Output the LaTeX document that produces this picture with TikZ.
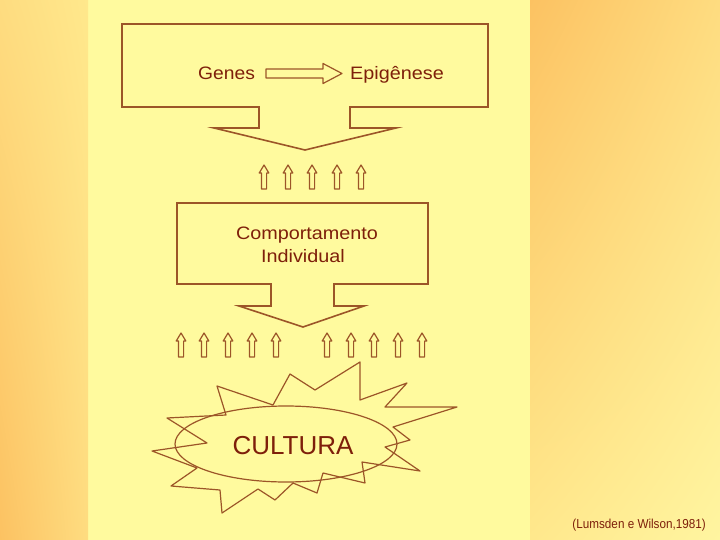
\documentclass[tikz,border=0pt]{standalone}
\usepackage{fontspec}
\setmainfont{Liberation Sans}
\usetikzlibrary{shadings,shapes.geometric}
\definecolor{panel}{HTML}{FFFA9E}
\definecolor{linebrown}{HTML}{9C5528}
\definecolor{textred}{HTML}{7E1F0A}
\definecolor{orA}{HTML}{FCC262}
\definecolor{orB}{HTML}{FEDC80}
\definecolor{orC}{HTML}{FFE88C}
\definecolor{orD}{HTML}{FFF5A0}
\begin{document}
\begin{tikzpicture}[x=1pt,y=-1pt,
  boxline/.style={draw=linebrown,line width=1.6pt,line join=miter},
  thinline/.style={draw=linebrown,line width=1.2pt,line join=round},
  label/.style={text=textred,font=\fontsize{18}{20}\selectfont,inner sep=0pt},
  uparrow/.pic={\draw[thinline] (0,0) -- (4.8,8) -- (2.6,8) -- (2.6,24) -- (-2.6,24) -- (-2.6,8) -- (-4.8,8) -- cycle;}]
\useasboundingbox (0,0) rectangle (720,540);
% background
\fill[panel] (0,0) rectangle (720,540);
\shade[upper left=orB, upper right=orC, lower left=orA, lower right=orB] (0,0) rectangle (88,540);
\shade[upper left=orA, upper right=orB, lower left=orC, lower right=orD] (530,0) rectangle (720,540);
% top box
\draw[boxline] (122,24) -- (488,24) -- (488,107) -- (350,107) -- (350,128) -- (396,128)
  -- (305,150) -- (214,128) -- (259,128) -- (259,107) -- (122,107) -- cycle;
\node[label,anchor=base west] (genes) at (198,80) {\scalebox{1.07}[1]{Genes}};
\node[label,anchor=base west] (epi) at (350,80) {\scalebox{1.1}[1]{Epigênese}};
\draw[thinline] (266,69) -- (323,69) -- (323,63.5) -- (342,73.5) -- (323,83.5) -- (323,78) -- (266,78) -- cycle;
% first row of arrows
\foreach \cx in {264,288,312,337,361} \pic at (\cx,165) {uparrow};
% middle box
\draw[boxline] (177,203) -- (428,203) -- (428,284) -- (334,284) -- (334,306) -- (364,306)
  -- (303,327) -- (239,306) -- (271,306) -- (271,284) -- (177,284) -- cycle;
\node[label,anchor=base] (comp) at (307,240) {\scalebox{1.1}[1]{Comportamento}};
\node[label,anchor=base] (ind) at (303,262) {\scalebox{1.1}[1]{Individual}};
% second row of arrows
\foreach \cx in {181,204,228,252,276,327,351,374,398,422} \pic at (\cx,333) {uparrow};
% star
\draw[thinline] (217,386) -- (273,405) -- (290,374) -- (315,390) -- (360,362) -- (360,400)
  -- (407,383) -- (385,407) -- (457,407) -- (393,427) -- (410,440) -- (385,447)
  -- (420,471) -- (362,462) -- (365,483) -- (323,473) -- (317,493) -- (293,483)
  -- (275,500) -- (258,489) -- (222,513) -- (220,490) -- (171,486) -- (197,468)
  -- (152,451) -- (207,443) -- (167,418) -- (226,415) -- cycle;
\node[draw=linebrown,line width=1.2pt,ellipse,minimum width=222pt,minimum height=76pt,inner sep=0pt] (ell) at (286,444) {};
\node[text=textred,font=\fontsize{26}{28}\selectfont,inner sep=0pt,anchor=base] (cultura) at (293,454) {CULTURA};
% citation
\node[text=textred,font=\fontsize{13}{14}\selectfont,inner sep=0pt,anchor=base east] (cite) at (706,528) {\scalebox{0.9}[1]{(Lumsden e Wilson,1981)}};
\end{tikzpicture}
\end{document}
